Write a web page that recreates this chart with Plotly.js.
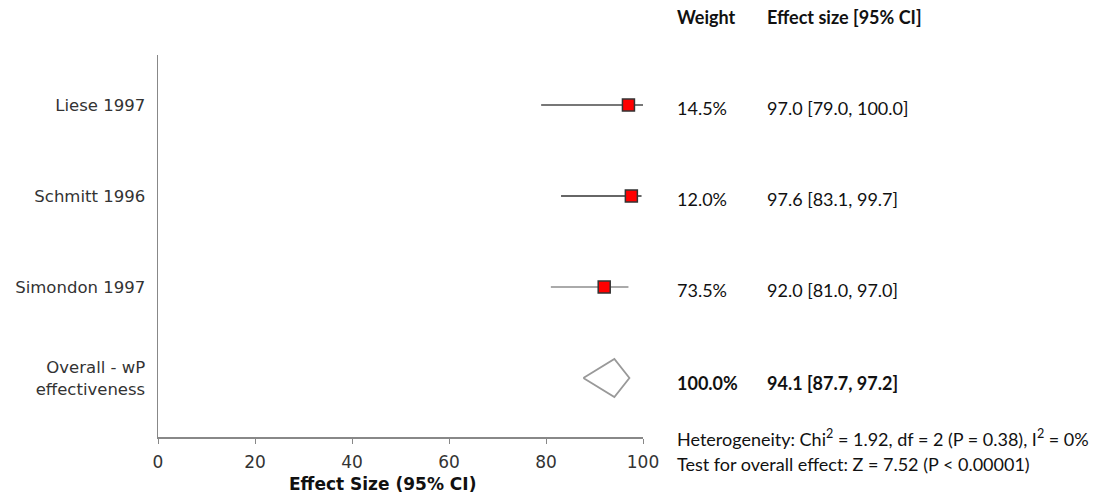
<!DOCTYPE html>
<html><head><meta charset="utf-8">
<script src="https://cdn.plot.ly/plotly-3.0.1.min.js"></script>
<style>body{margin:0;background:#fff}#c{width:1101px;height:500px}</style>
</head><body><div id="c"></div>
<script>
const studies = ["Liese 1997", "Schmitt 1996", "Simondon 1997"];
const effect = [97.0, 97.6, 92.0];
const ciLow = [79.0, 83.1, 81.0];
const ciHigh = [100.0, 99.7, 97.0];
const weights = [14.5, 12.0, 73.5];
const overallLabel = "Overall - wP<br>effectiveness";
const overall = {es: 94.1, lo: 87.7, hi: 97.2, weight: 100.0};
const xTicks = [0, 20, 40, 60, 80, 100];
const heterogeneity = "Heterogeneity: Chi<sup>2</sup> = 1.92, df = 2 (P = 0.38), I<sup>2</sup> = 0%";
const overallTest = "Test for overall effect: Z = 7.52 (P < 0.00001)";

const rowY = studies.map((s, i) => studies.length + 1 - i);
const lineColors = ["#777", "#666", "#aaa"];
const traces = [];
studies.forEach((s, i) => {
  traces.push({
    type: "scatter", mode: "lines", x: [ciLow[i], ciHigh[i]], y: [rowY[i], rowY[i]],
    line: {color: lineColors[i], width: 2}, hoverinfo: "skip", showlegend: false
  });
});
traces.push({
  type: "scatter", mode: "markers", x: effect, y: rowY,
  marker: {symbol: "square", size: 12, color: "#ff0000", line: {color: "#333", width: 1.5}},
  showlegend: false
});
const dh = 0.21;
traces.push({
  type: "scatter", mode: "lines",
  x: [overall.lo, overall.es, overall.hi, overall.es, overall.lo],
  y: [1, 1 + dh, 1, 1 - dh, 1],
  fill: "toself", fillcolor: "#fff", line: {color: "#999", width: 1.8},
  showlegend: false
});

const rf = {family: "Lato, 'Open Sans', sans-serif", size: 18, color: "#111"};
const colW = 1.066, colE = 1.252;
const ann = [];
ann.push({xref: "paper", yref: "paper", x: colW, y: 1.1, xanchor: "left", yanchor: "middle", showarrow: false, text: "<b>Weight</b>", font: rf});
ann.push({xref: "paper", yref: "paper", x: colE, y: 1.1, xanchor: "left", yanchor: "middle", showarrow: false, text: "<b>Effect size [95% CI]</b>", font: rf});
studies.forEach((s, i) => {
  ann.push({xref: "paper", yref: "y", x: colW, y: rowY[i] - 0.03, xanchor: "left", yanchor: "middle", showarrow: false, text: weights[i].toFixed(1) + "%", font: rf});
  ann.push({xref: "paper", yref: "y", x: colE, y: rowY[i] - 0.03, xanchor: "left", yanchor: "middle", showarrow: false,
    text: effect[i].toFixed(1) + " [" + ciLow[i].toFixed(1) + ", " + ciHigh[i].toFixed(1) + "]", font: rf});
});
ann.push({xref: "paper", yref: "y", x: colW, y: 1 - 0.05, xanchor: "left", yanchor: "middle", showarrow: false, text: "<b>" + overall.weight.toFixed(1) + "%</b>", font: rf});
ann.push({xref: "paper", yref: "y", x: colE, y: 1 - 0.05, xanchor: "left", yanchor: "middle", showarrow: false,
  text: "<b>" + overall.es.toFixed(1) + " [" + overall.lo.toFixed(1) + ", " + overall.hi.toFixed(1) + "]</b>", font: rf});
ann.push({xref: "paper", yref: "paper", x: colW, y: -0.003, xanchor: "left", yanchor: "middle", showarrow: false, text: heterogeneity, font: rf});
ann.push({xref: "paper", yref: "paper", x: colW, y: -0.07, xanchor: "left", yanchor: "middle", showarrow: false, text: overallTest, font: rf});
ann.push({xref: "paper", yref: "paper", x: 0.462, y: -0.122, xanchor: "center", yanchor: "middle", showarrow: false,
  text: "<b>Effect Size (95% CI)</b>", font: {family: "DejaVu Sans, Verdana, sans-serif", size: 17, color: "#111"}});

const layout = {
  width: 1101, height: 500,
  margin: {l: 158, r: 458, t: 55, b: 63},
  paper_bgcolor: "#fff", plot_bgcolor: "#fff",
  showlegend: false,
  xaxis: {range: [0, 100], tickvals: xTicks, ticktext: xTicks.map(String), showgrid: false, zeroline: false,
    showline: true, linecolor: "#888", linewidth: 1.5, ticks: "outside", ticklen: 5, tickcolor: "#888",
    ticklabelstandoff: 4,
    tickfont: {family: "DejaVu Sans, Verdana, sans-serif", size: 17, color: "#333"}, fixedrange: true},
  yaxis: {range: [0.352, 4.55], tickvals: rowY.concat([1]), ticktext: studies.concat([overallLabel]),
    showgrid: false, zeroline: false, showline: true, linecolor: "#888", linewidth: 1.5, ticks: "",
    ticklabelstandoff: 8,
    tickfont: {family: "DejaVu Sans, Verdana, sans-serif", size: 16.5, color: "#333"}},
  annotations: ann
};
Plotly.newPlot("c", traces, layout, {displayModeBar: false, staticPlot: true});
</script></body></html>
